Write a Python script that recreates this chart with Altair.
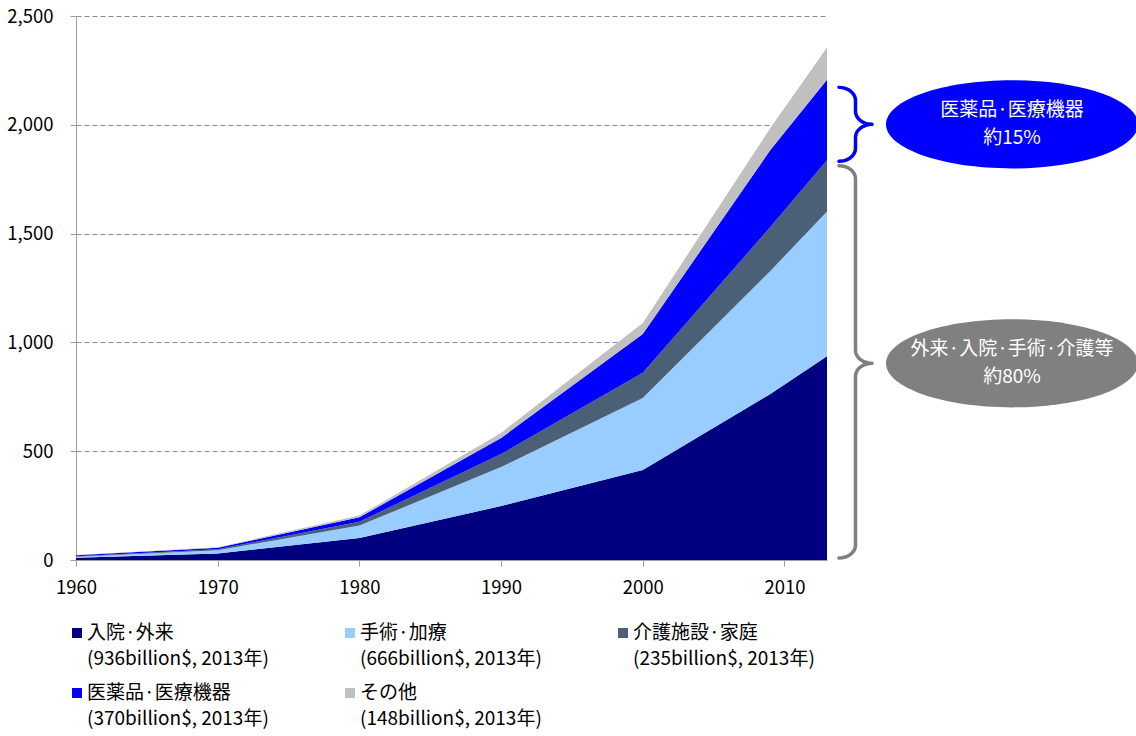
import altair as alt
import numpy as np
import pandas as pd

FONT = "Noto Sans CJK JP"

# ---------------- data ----------------
years = [1960, 1970, 1980, 1990, 2000, 2009, 2013]
categories = ["入院·外来", "手術·加療", "介護施設·家庭", "医薬品·医療機器", "その他"]
inpatient = [10, 30, 101, 248, 414, 763, 936]
surgery = [5, 15, 57, 179, 331, 565, 666]
nursing = [2, 4, 18, 60, 115, 202, 235]
drugs = [5, 7, 20, 74, 179, 354, 370]
other = [1, 3, 8, 23, 50, 101, 148]
colors = ["#000080", "#99CCFF", "#4B6077", "#0000FF", "#C0C0C0"]

x_ticks = [1960, 1970, 1980, 1990, 2000, 2010]
y_ticks = [0, 500, 1000, 1500, 2000, 2500]

callout_line1 = ["医薬品·医療機器", "外来·入院·手術·介護等"]
callout_line2 = ["約15%", "約80%"]
callout_colors = ["#0000FF", "#808080"]
brace_top = [2172, 1812]
brace_tip = [2002, 904]
brace_bottom = [1832, 9]

series = [inpatient, surgery, nursing, drugs, other]

# ---------------- tables ----------------
rows = []
for i, (c, s) in enumerate(zip(categories, series)):
    for yr, v in zip(years, s):
        rows.append({"year": yr, "cat": c, "value": v, "idx": i})
df = pd.DataFrame(rows)

leg = pd.DataFrame({
    "name": categories,
    "note": [f"({s[-1]}billion$, 2013年)" for s in series],
    "col": [i % 3 for i in range(len(categories))],
    "row": [i // 3 for i in range(len(categories))],
})

# brace outline (annotation geometry), y in data units
K = 2500 / 544.0


def brace(T, M, B, bid, rx=16.5, ry=13.0, n=9):
    hM = (T - M) / K
    hB = (T - B) / K
    th = np.linspace(0, np.pi / 2, n)
    pts = []
    pts += [(rx * np.sin(t), ry - ry * np.cos(t)) for t in th]
    pts += [(2 * rx - rx * np.cos(t), hM - ry + ry * np.sin(t)) for t in th]
    pts += [(2 * rx - rx * np.sin(t), hM + ry - ry * np.cos(t)) for t in th]
    pts += [(rx * np.cos(t), hB - ry + ry * np.sin(t)) for t in th]
    return [{"u": u, "v": T - d * K, "i": j, "id": bid} for j, (u, d) in enumerate(pts)]


brace_rows = []
for b in range(2):
    brace_rows += brace(brace_top[b], brace_tip[b], brace_bottom[b], b)
bdf = pd.DataFrame(brace_rows)

cdf = pd.DataFrame({"l1": callout_line1, "l2": callout_line2, "yc": brace_tip, "id": [0, 1]})

# ---------------- chart ----------------
xscale = alt.Scale(domain=[1960, 2013], nice=False, zero=False)
yscale = alt.Scale(domain=[0, 2500], nice=False)

area = alt.Chart(df).mark_area(interpolate="linear", opacity=1).encode(
    x=alt.X("year:Q", scale=xscale, title=None,
            axis=alt.Axis(values=x_ticks, format="d", tickSize=6, labelPadding=12,
                          grid=False, domainColor="#9e9e9e", tickColor="#9e9e9e",
                          labelFlush=False, labelOverlap=False)),
    y=alt.Y("value:Q", stack="zero", scale=yscale, title=None,
            axis=alt.Axis(values=y_ticks, format=",.0f", tickSize=6, labelPadding=17,
                          grid=True, gridDash=[5, 3], gridColor="#8c8c8c",
                          domainColor="#9e9e9e", tickColor="#9e9e9e",
                          labelFlush=False, labelOverlap=False)),
    color=alt.Color("cat:N", scale=alt.Scale(domain=categories, range=colors), legend=None),
    order=alt.Order("idx:Q", sort="ascending"),
)

lx = alt.X("col:Q", scale=alt.Scale(domain=[0, 2], range=[1, 547]), axis=None)
ly = alt.Y("row:Q", scale=alt.Scale(domain=[0, 1], range=[617, 677]), axis=None)

leg_sq = alt.Chart(leg).mark_square(size=100, opacity=1).encode(
    x=lx, y=ly,
    color=alt.Color("name:N", scale=alt.Scale(domain=categories, range=colors), legend=None),
)
leg_t1 = alt.Chart(leg).mark_text(align="left", baseline="middle", dx=10, fontSize=19,
                                  font=FONT, color="#000000").encode(x=lx, y=ly, text="name:N")
leg_t2 = alt.Chart(leg).mark_text(align="left", baseline="middle", dx=10, dy=26, fontSize=19,
                                  font=FONT, color="#000000").encode(x=lx, y=ly, text="note:N")

braces = alt.Chart(bdf).mark_line(strokeWidth=3.5, strokeCap="round", strokeJoin="round").encode(
    x=alt.X("u:Q", scale=alt.Scale(domain=[0, 33], range=[763, 796]), axis=None),
    y=alt.Y("v:Q", scale=yscale, axis=None),
    detail="id:N",
    order=alt.Order("i:Q"),
    color=alt.Color("id:N", scale=alt.Scale(domain=[0, 1], range=callout_colors), legend=None),
)

ELLIPSE = ("M-1,0C-1,-0.193,-0.552,-0.35,0,-0.35C0.552,-0.35,1,-0.193,1,0"
           "C1,0.193,0.552,0.35,0,0.35C-0.552,0.35,-1,0.193,-1,0Z")
ell = alt.Chart(cdf).mark_point(shape=ELLIPSE, size=252 * 252, filled=True, opacity=1,
                                strokeWidth=0).encode(
    x=alt.value(936),
    y=alt.Y("yc:Q", scale=yscale, axis=None),
    fill=alt.Fill("id:N", scale=alt.Scale(domain=[0, 1], range=callout_colors), legend=None),
)
ell_t1 = alt.Chart(cdf).mark_text(baseline="middle", align="center", dy=-14,
                                  fontSize=19, font=FONT, color="white").encode(
    x=alt.value(936),
    y=alt.Y("yc:Q", scale=yscale, axis=None),
    text="l1:N",
)
ell_t2 = alt.Chart(cdf).mark_text(baseline="middle", align="center", dy=14,
                                  fontSize=19, font=FONT, color="white").encode(
    x=alt.value(936),
    y=alt.Y("yc:Q", scale=yscale, axis=None),
    text="l2:N",
)

chart = alt.layer(area, leg_sq, leg_t1, leg_t2, braces, ell, ell_t1, ell_t2).resolve_scale(
    x="independent", y="independent", color="independent", fill="independent"
).properties(
    width=751, height=544,
    autosize=alt.AutoSizeParams(type="none"),
    padding={"left": 76, "top": 16, "right": 309, "bottom": 176},
    background="white",
).configure_view(stroke=None).configure_axis(
    labelFont=FONT, labelFontSize=18.5, labelColor="#000000"
)

chart.save("out.html", embed_options={"renderer": "svg", "actions": False})
